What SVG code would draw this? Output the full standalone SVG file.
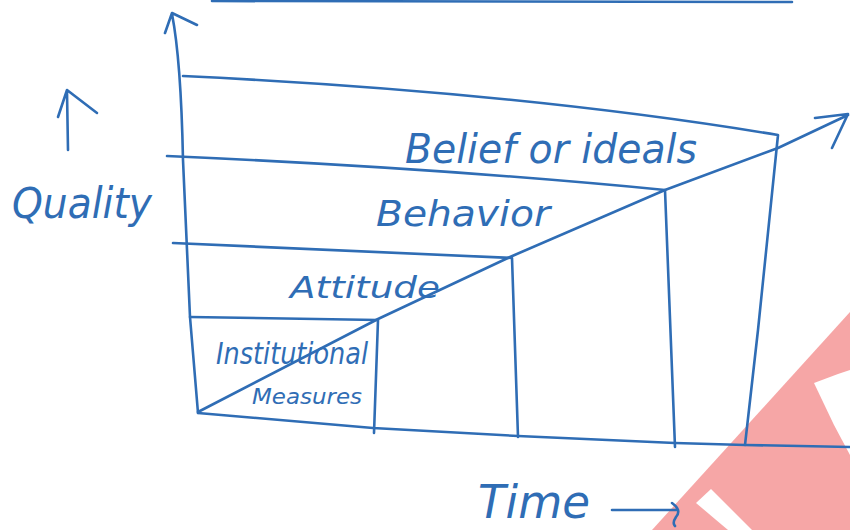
<svg xmlns="http://www.w3.org/2000/svg" width="850" height="530" viewBox="0 0 850 530">
<style>
.ln{fill:none;stroke:#2f6db5;stroke-width:2.6;stroke-linecap:round;stroke-linejoin:round}
.tx{fill:#2f6db5;font-family:"DejaVu Sans",sans-serif;font-style:italic}
</style>
<rect width="850" height="530" fill="#ffffff"/>
<g id="watermark">
<polygon points="652,530 850,312 850,530" fill="#f6a6a6"/>
<polygon points="814,383 838,374 850,370 850,455 834,425" fill="#ffffff"/>
<polygon points="696,503 711,489 752,530 728,530" fill="#ffffff"/>
</g>
<g id="connectors">
<path class="ln" d="M212,1 L792,2"/>
<path id="y-axis" class="ln" d="M198,413 L190,317 L183,160 Q181,60 172,14 M165,33 L172,13 L197,25"/>
<path id="x-axis" class="ln" d="M198,413 L373,428 L518,436 L675,443 L745,445 L850,447"/>
<path id="growth-line" class="ln" d="M198,412 L378,319 L510,257 L665,190 L778,148 L848,115 M815,118 L848,114 L832,148"/>
<path class="ln" d="M68,150 L67,92 M58,117 L67,90 L97,113"/>
<path class="ln" d="M612,510 L678,510 M672,503 Q682,510 676,517 Q672,523 675,526"/>
</g>
<g id="belief">
<path class="ln" d="M183,76 Q520,92 778,135 L758,330 L745,445"/>
<text class="tx" x="405" y="163" font-size="40" textLength="292" lengthAdjust="spacingAndGlyphs">Belief or ideals</text>
</g>
<g id="behavior">
<path class="ln" d="M167,156 Q440,168 665,190 L675,447"/>
<text class="tx" x="376" y="226" font-size="36" textLength="174" lengthAdjust="spacingAndGlyphs">Behavior</text>
</g>
<g id="attitude">
<path class="ln" d="M173,243 L512,258 L518,437"/>
<text class="tx" x="290" y="298" font-size="30" textLength="150" lengthAdjust="spacingAndGlyphs">Attitude</text>
</g>
<g id="institutional">
<path class="ln" d="M190,317 L378,320 L374,433"/>
<text class="tx" x="216" y="364" font-size="30" textLength="152" lengthAdjust="spacingAndGlyphs">Institutional</text>
<text class="tx" x="252" y="404" font-size="22" textLength="110" lengthAdjust="spacingAndGlyphs">Measures</text>
</g>
<g id="quality">
<text class="tx" x="12" y="218" font-size="42" textLength="140" lengthAdjust="spacingAndGlyphs">Quality</text>
</g>
<g id="time">
<text class="tx" x="478" y="518" font-size="46" textLength="112" lengthAdjust="spacingAndGlyphs">Time</text>
</g>
</svg>
